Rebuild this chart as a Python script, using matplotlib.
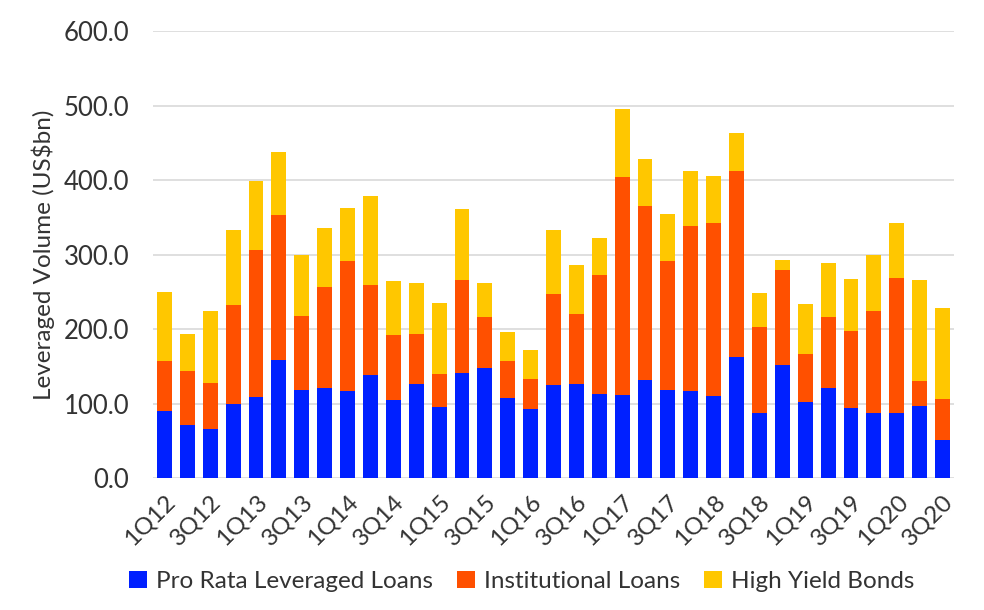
import numpy as np
import matplotlib
matplotlib.use("Agg")
import matplotlib.pyplot as plt

plt.rcParams['font.family'] = ['Lato', 'DejaVu Sans']

quarters = []
for yr in range(12, 21):
    for q in range(1, 5):
        quarters.append("%dQ%d" % (q, yr))
quarters = quarters[:35]

pro_rata = [89.5, 71.6, 66.2, 98.9, 109.2, 158.9, 118.6, 121.3, 117.3, 138.8,
            105.2, 126.7, 95.8, 141.5, 148.2, 107.9, 93.1, 125.3, 126.7, 113.2,
            111.9, 132.1, 118.6, 117.3, 110.6, 162.9, 87.7, 152.2, 102.5, 121.3,
            94.4, 87.7, 87.7, 97.1, 51.5]
institutional = [68.1, 72.5, 61.8, 133.9, 197.4, 194.7, 99.4, 135.6, 174.6, 120.8,
                 87.3, 67.1, 44.3, 124.8, 68.5, 49.7, 40.3, 122.2, 94.0, 159.9,
                 292.8, 233.6, 173.3, 221.6, 232.3, 249.8, 115.5, 127.6, 64.5, 95.4,
                 103.5, 137.0, 181.3, 33.6, 55.0]
high_yield = [92.6, 49.7, 96.7, 100.7, 92.7, 84.6, 81.9, 79.3, 71.1, 119.5,
              72.5, 68.5, 95.4, 95.4, 45.6, 38.9, 38.9, 86.0, 65.8, 49.6,
              91.3, 63.1, 63.1, 73.8, 63.1, 51.0, 45.7, 13.4, 67.1, 72.5,
              69.8, 75.2, 73.9, 135.6, 122.2]

blue = "#0020FF"
orange = "#FF5000"
yellow = "#FFC700"

fig = plt.figure(figsize=(9.84, 6.1), dpi=100)
ax = fig.add_axes([0.1555, 0.2164, 0.814, 0.7326])

x = np.arange(len(quarters))
width = 0.65
pr = np.array(pro_rata)
inst = np.array(institutional)
hy = np.array(high_yield)

ax.bar(x, pr, width, color=blue, label="Pro Rata Leveraged Loans", zorder=3)
ax.bar(x, inst, width, bottom=pr, color=orange, label="Institutional Loans", zorder=3)
ax.bar(x, hy, width, bottom=pr + inst, color=yellow, label="High Yield Bonds", zorder=3)

ax.set_xlim(-0.5, len(quarters) - 0.5)
ax.set_ylim(0, 600)
ax.set_yticks(np.arange(0, 601, 100))
ax.set_yticklabels(["%.1f" % v for v in np.arange(0, 601, 100)], fontsize=18.5, color="#333333")
ax.yaxis.grid(True, color="#D9D9D9", linewidth=1.2, zorder=0)
ax.set_axisbelow(True)
for s in ax.spines.values():
    s.set_visible(False)
ax.tick_params(axis="both", length=0)
ax.tick_params(axis="y", pad=17)

ax.set_xticks(x[::2])
ax.set_xticklabels(quarters[::2], rotation=45, ha="right", rotation_mode="anchor",
                   fontsize=17.5, color="#333333")
ax.tick_params(axis="x", pad=9)

ax.set_ylabel("Leveraged Volume (US$bn)", fontsize=17.5, color="#333333", labelpad=6)

fig.legend(loc="center", bbox_to_anchor=(0.53, 0.047), ncol=3, frameon=False,
           fontsize=17.5, handlelength=0.75, handleheight=0.75, handletextpad=0.35,
           columnspacing=1.0, labelcolor="#333333")

fig.savefig("out.png", dpi=100)
